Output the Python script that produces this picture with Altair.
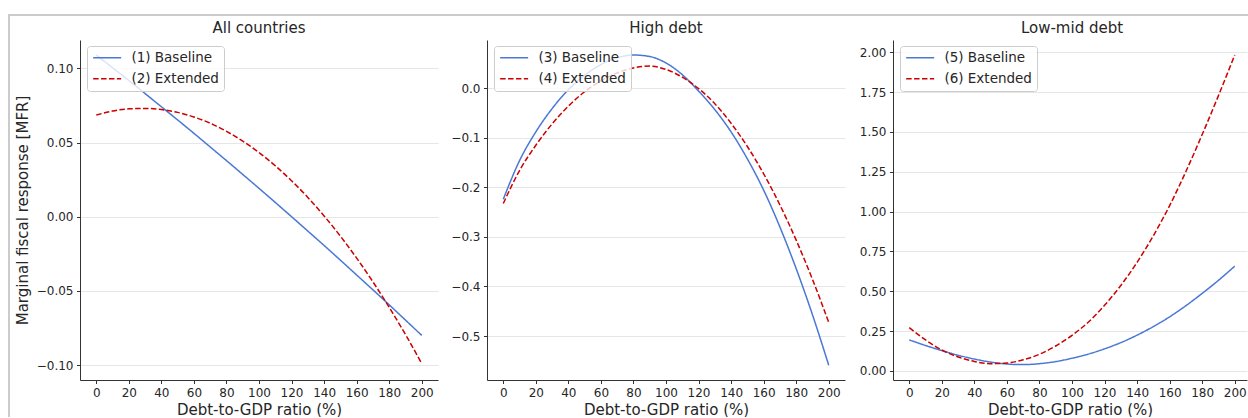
import altair as alt
import pandas as pd

# ---------------- data ----------------
debt_ratio = [0, 10, 20, 30, 40, 50, 60, 70, 80, 90, 100,
              110, 120, 130, 140, 150, 160, 170, 180, 190, 200]

all_baseline = [0.1090, 0.1004, 0.0918, 0.0830, 0.0741, 0.0652, 0.0562, 0.0470,
                0.0378, 0.0285, 0.0191, 0.0096, 0.0000, -0.0097, -0.0194, -0.0293,
                -0.0393, -0.0493, -0.0594, -0.0697, -0.0800]
all_extended = [0.0685, 0.0712, 0.0727, 0.0730, 0.0722, 0.0703, 0.0672, 0.0630,
                0.0575, 0.0510, 0.0432, 0.0343, 0.0242, 0.0130, 0.0005, -0.0131,
                -0.0279, -0.0439, -0.0611, -0.0794, -0.0990]

high_baseline = [-0.224, -0.146, -0.088, -0.041, -0.003, 0.026, 0.048, 0.0615,
                 0.0672, 0.0642, 0.0511, 0.0275, -0.0055, -0.043, -0.088, -0.1425,
                 -0.2055, -0.280, -0.364, -0.457, -0.559]
high_extended = [-0.2325, -0.166, -0.115, -0.072, -0.036, -0.007, 0.015, 0.031,
                 0.041, 0.0448, 0.038, 0.0225, -0.0005, -0.031, -0.0705, -0.1175,
                 -0.1725, -0.2355, -0.3065, -0.3855, -0.4725]

low_baseline = [0.195, 0.160, 0.128, 0.099, 0.075, 0.056, 0.044, 0.040, 0.046,
                0.059, 0.080, 0.106, 0.139, 0.178, 0.225, 0.279, 0.340, 0.410,
                0.487, 0.569, 0.658]
low_extended = [0.272, 0.195, 0.132, 0.088, 0.060, 0.046, 0.050, 0.070, 0.105,
                0.157, 0.224, 0.306, 0.412, 0.537, 0.682, 0.849, 1.038, 1.252,
                1.484, 1.728, 1.983]

panel_titles = ["All countries", "High debt", "Low-mid debt"]
series_labels = [["(1) Baseline", "(2) Extended"],
                 ["(3) Baseline", "(4) Extended"],
                 ["(5) Baseline", "(6) Extended"]]
x_ticks = [0, 20, 40, 60, 80, 100, 120, 140, 160, 180, 200]
y_ticks_all = [-0.10, -0.05, 0.0, 0.05, 0.10]
y_ticks_high = [-0.5, -0.4, -0.3, -0.2, -0.1, 0.0]
y_ticks_low = [0.0, 0.25, 0.5, 0.75, 1.0, 1.25, 1.5, 1.75, 2.0]
x_title = "Debt-to-GDP ratio (%)"
y_title = "Marginal fiscal response [MFR]"

# ---------------- styling ----------------
BLUE = "#4a78d4"
RED = "#cc0000"
FRAME = "#cbcbcb"
FONT = "DejaVu Sans"
TEXT = "#262626"
H = 340
FULL_W = 358


def panel(title, labels, base, ext, ydom, yticks, yfmt, width, xmax,
          ytitle, bar_left, bar_right, left_bar):
    n = len(debt_ratio)
    df = pd.DataFrame({
        "x": debt_ratio + debt_ratio,
        "y": base + ext,
        "series": [labels[0]] * n + [labels[1]] * n,
    })
    leg = alt.Legend(
        title=None, orient="none", legendX=7, legendY=6,
        fillColor="rgba(255,255,255,0.8)", strokeColor="#cccccc",
        cornerRadius=3, padding=5, rowPadding=6,
        labelFont=FONT, labelFontSize=13.5, labelColor=TEXT,
        symbolType="M-2.5,0L2.5,0", symbolSize=125.4, symbolStrokeWidth=1.5,
        symbolOffset=8.4, labelOffset=17.5,
    )
    if ytitle:
        yaxis = alt.Axis(values=yticks, format=yfmt, title=ytitle, grid=True)
    else:
        yaxis = alt.Axis(values=yticks, format=yfmt, title=None, grid=True)
    lines = alt.Chart(df).mark_line(strokeWidth=1.5, interpolate="monotone").encode(
        x=alt.X("x:Q", scale=alt.Scale(domain=[-10, xmax], nice=False, zero=False),
                axis=alt.Axis(values=x_ticks, format="d", title=x_title, grid=False)),
        y=alt.Y("y:Q", scale=alt.Scale(domain=ydom, nice=False, zero=False), axis=yaxis),
        color=alt.Color("series:N", scale=alt.Scale(domain=labels, range=[BLUE, RED]),
                        legend=leg),
        strokeDash=alt.StrokeDash("series:N",
                                  scale=alt.Scale(domain=labels, range=[[1, 0], [5.5, 2.4]]),
                                  legend=leg),
    )
    one = pd.DataFrame({"k": [0]})
    top_bar = alt.Chart(one).mark_rect(color=FRAME).encode(
        x=alt.value(bar_left), x2=alt.value(bar_right),
        y=alt.value(-26), y2=alt.value(-24))
    head = alt.Chart(one).mark_text(
        text=title, font=FONT, fontSize=15, color=TEXT, align="center",
        baseline="alphabetic",
    ).encode(x=alt.value(FULL_W / 2), y=alt.value(-7.5))
    layers = [top_bar, lines, head]
    if left_bar:
        side = alt.Chart(one).mark_rect(color=FRAME).encode(
            x=alt.value(bar_left), x2=alt.value(bar_left + 2),
            y=alt.value(-26), y2=alt.value(377))
        layers.insert(0, side)
    return alt.layer(*layers).properties(width=width, height=H)


p1 = panel(panel_titles[0], series_labels[0], all_baseline, all_extended,
           [-0.1101, 0.1191], y_ticks_all, ".2f", 358, 210, y_title, -72, 360, True)
p2 = panel(panel_titles[1], series_labels[1], high_baseline, high_extended,
           [-0.5888, 0.0975], y_ticks_high, ".1f", 358, 210, None, -47, 360, False)
p3 = panel(panel_titles[2], series_labels[2], low_baseline, low_extended,
           [-0.0565, 2.0772], y_ticks_low, ".2f", 354, 207.54, None, -46, 355, False)

chart = alt.hconcat(p1, p2, p3, spacing=0).resolve_scale(
    color="independent", strokeDash="independent"
).resolve_legend(
    color="independent", strokeDash="independent"
).properties(
    padding={"left": 8, "top": 14, "right": 0, "bottom": 0},
    background="white",
).configure_view(
    strokeWidth=0
).configure_axis(
    domainColor="#333333", tickColor="#333333", labelColor=TEXT, titleColor=TEXT,
    labelFont=FONT, titleFont=FONT, labelFontSize=12, titleFontSize=15,
    titleFontWeight="normal", tickSize=3.5, labelPadding=3.5, domainWidth=1,
    tickWidth=1, gridColor="#e6e6e6", gridWidth=1, labelFlush=False,
).configure_axisX(
    titlePadding=4
).configure_axisY(
    titlePadding=6
)

chart.save("out.html", embed_options={"renderer": "svg", "actions": False})
